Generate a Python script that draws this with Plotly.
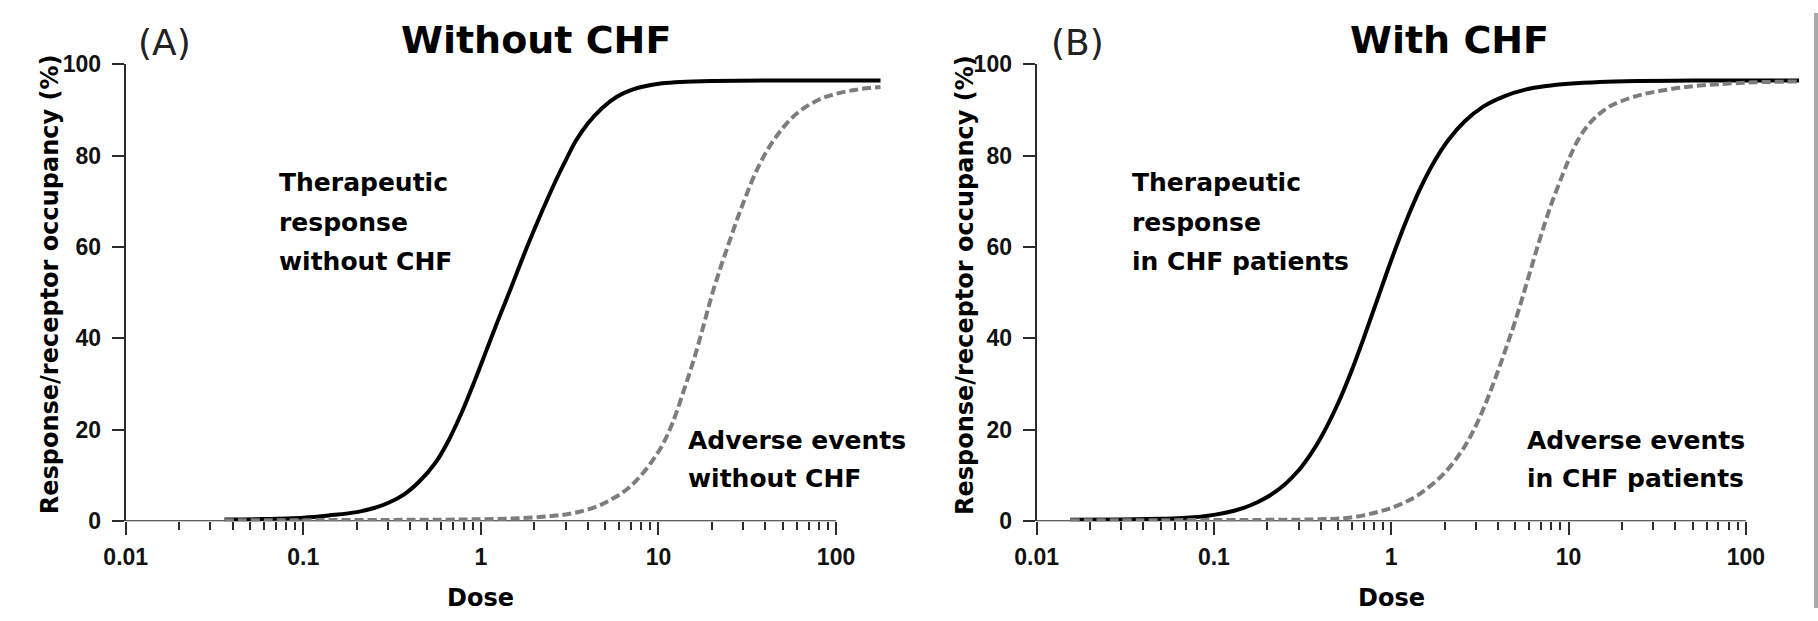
import plotly.graph_objects as go
import math

# ---------------- data ----------------
# Panel A: without CHF
dose_a_ther = [0.036, 0.06, 0.1, 0.14, 0.2, 0.25, 0.3, 0.37, 0.45, 0.55, 0.65, 0.78, 0.92, 1.08,
               1.25, 1.415, 1.6, 1.85, 2.1, 2.31, 2.7, 3.1, 3.4, 4.0, 4.79, 5.8, 7.0, 8.5, 10.5,
               13.3, 20, 40, 100, 178]
resp_a_ther = [0.4, 0.5, 0.8, 1.3, 2.0, 2.9, 4.0, 5.9, 8.7, 12.6, 17.3, 23.8, 30.6, 37.6,
               44.0, 49.2, 54.5, 60.7, 65.8, 69.5, 75.3, 80.0, 83.0, 87.0, 90.3, 92.8, 94.3, 95.2, 95.8,
               96.1, 96.3, 96.4, 96.4, 96.4]

dose_a_adv = [0.036, 0.1, 0.3, 0.6, 1.0, 1.5, 2.0, 2.5, 3.0, 3.6, 4.4, 5.2, 6.3, 7.5, 9.0, 10.5,
              12, 14, 16, 18, 20, 22.5, 25, 28, 31, 35, 40.5, 47, 55, 65, 80, 98, 130, 178]
resp_a_adv = [0.25, 0.25, 0.3, 0.35, 0.45, 0.6, 0.85, 1.15, 1.5, 2.1, 3.1, 4.4, 6.3, 8.9, 12.6, 16.6,
              21.5, 29.0, 36.0, 43.0, 49.5, 55.8, 61.0, 66.5, 71.0, 76.0, 80.8, 84.6, 87.8, 90.2, 92.2,
              93.4, 94.4, 95.0]

# Panel B: with CHF
dose_b_ther = [0.0155, 0.03, 0.05, 0.07, 0.1, 0.13, 0.16, 0.2, 0.25, 0.3, 0.35, 0.4, 0.5, 0.6, 0.7,
               0.83, 1.0, 1.2, 1.45, 1.75, 2.1, 2.6, 3.3, 4.3, 5.7, 7.5, 10, 15, 25, 50, 100, 200]
resp_b_ther = [0.35, 0.4, 0.55, 0.75, 1.4, 2.3, 3.45, 5.3, 8.0, 11.1, 14.6, 18.2, 25.7, 33.1, 40.1,
               48.2, 57.1, 65.2, 72.6, 78.7, 83.4, 87.5, 90.7, 92.9, 94.4, 95.2, 95.7, 96.1, 96.3,
               96.4, 96.4, 96.4]

dose_b_adv = [0.0155, 0.05, 0.15, 0.3, 0.45, 0.555, 0.7, 0.85, 1.0, 1.2, 1.4, 1.61, 1.85, 2.09, 2.35,
              2.58, 2.8, 3.06, 3.35, 3.64, 3.95, 4.31, 4.6, 4.91, 5.5, 6.2, 7.0, 8.0, 9.3, 10.3, 11.5,
              12.8, 14.2, 17, 21.9, 27, 33.6, 42, 51.5, 70, 110, 200]
resp_b_adv = [0.25, 0.25, 0.3, 0.35, 0.5, 0.7, 1.3, 2.1, 2.9, 4.2, 5.6, 7.3, 9.3, 11.4, 13.9,
              16.2, 18.6, 21.6, 25.1, 28.6, 32.3, 36.4, 39.6, 42.8, 49.0, 55.8, 62.6, 69.4, 76.0, 80.2, 83.9,
              86.5, 88.4, 90.7, 92.5, 93.5, 94.2, 94.8, 95.2, 95.6, 96.0, 96.2]

x_tickvals = [0.01, 0.1, 1, 10, 100]
x_ticktext = ["0.01", "0.1", "1", "10", "100"]
x_minor = [m * d for d in [0.01, 0.1, 1, 10] for m in range(2, 10)]
y_tickvals = [0, 20, 40, 60, 80, 100]
axis_line_x = [0.01, 100]
axis_line_y = [0, 0]

panel_titles = ["Without CHF", "With CHF"]
panel_letters = ["(A)", "(B)"]
ther_labels = [["Therapeutic", "response", "without CHF"],
               ["Therapeutic", "response", "in CHF patients"]]
adv_labels = [["Adverse events", "without CHF"],
              ["Adverse events", "in CHF patients"]]
y_title = "Response/receptor occupancy (%)"
x_title = "Dose"

# ---------------- layout geometry ----------------
W, H = 1818, 621
TXT = "DejaVu Sans"
TICKF = "Liberation Sans"
AX = "#2b2b2b"
GREY = "#7d7d7d"

x_range = [-2, math.log10(200)]
dom_a = [105 / W, (105 + (x_range[1] - x_range[0]) * 179.75) / W]
dom_b = [1027 / W, (1027 + (x_range[1] - x_range[0]) * 179.5) / W]
dom_y = [1 - 530.5 / H, 1 - 53.3 / H]

fig = go.Figure()

def add_panel(xa, ya, dt, rt, da, ra):
    fig.add_trace(go.Scatter(x=axis_line_x, y=axis_line_y, mode="lines",
                             line=dict(color=AX, width=2), xaxis=xa, yaxis=ya,
                             showlegend=False, hoverinfo="skip"))
    fig.add_trace(go.Scatter(x=dt, y=rt, mode="lines",
                             line=dict(color="black", width=4, shape="spline", smoothing=1.0),
                             xaxis=xa, yaxis=ya, showlegend=False))
    fig.add_trace(go.Scatter(x=da, y=ra, mode="lines",
                             line=dict(color=GREY, width=4, dash="9px,4px", shape="spline", smoothing=1.0),
                             xaxis=xa, yaxis=ya, showlegend=False))

add_panel("x", "y", dose_a_ther, resp_a_ther, dose_a_adv, resp_a_adv)
add_panel("x2", "y2", dose_b_ther, resp_b_ther, dose_b_adv, resp_b_adv)

def xaxis_cfg(dom, anchor):
    return dict(type="log", range=x_range, domain=dom, anchor=anchor,
                showline=False, showgrid=False, zeroline=False,
                tickvals=x_tickvals, ticktext=x_ticktext,
                ticks="outside", ticklen=13, tickwidth=2, tickcolor=AX,
                ticklabelstandoff=2,
                tickfont=dict(family=TICKF, size=23, color="#111", weight="bold"),
                minor=dict(tickvals=x_minor, ticks="outside", ticklen=8, tickwidth=2, tickcolor=AX,
                           showgrid=False))

def yaxis_cfg(anchor):
    return dict(range=[0, 100], domain=dom_y, anchor=anchor,
                showline=True, linecolor=AX, linewidth=2,
                showgrid=False, zeroline=False,
                tickvals=y_tickvals, ticks="outside", ticklen=12, tickwidth=2, tickcolor=AX,
                ticklabelstandoff=6,
                tickfont=dict(family=TICKF, size=23, color="#111", weight="bold"))

fig.update_layout(
    width=W, height=H,
    margin=dict(l=0, r=0, t=0, b=0),
    paper_bgcolor="white", plot_bgcolor="white",
    xaxis=xaxis_cfg(dom_a, "y"),
    yaxis=yaxis_cfg("x"),
    xaxis2=xaxis_cfg(dom_b, "y2"),
    yaxis2=yaxis_cfg("x2"),
)

ann = []
# panel-level texts (paper coordinates)
title_cx = [520, 1445]
letter_cx = [144, 1068]
ytitle_cx = [28, 954]
xtitle_cx = [464.5, 1386]
for i in range(2):
    ann.append(dict(text=panel_titles[i], x=title_cx[i] / W, y=1 - 28 / H, xref="paper", yref="paper",
                    xanchor="center", yanchor="middle", showarrow=False,
                    font=dict(family=TXT, size=38, color="black", weight="bold")))
    ann.append(dict(text=panel_letters[i], x=letter_cx[i] / W, y=1 - 31 / H, xref="paper", yref="paper",
                    xanchor="center", yanchor="middle", showarrow=False,
                    font=dict(family=TXT, size=36, color="#222")))
    ann.append(dict(text=y_title, x=ytitle_cx[i] / W, y=1 - 283.5 / H, xref="paper", yref="paper",
                    xanchor="center", yanchor="middle", textangle=-90, showarrow=False,
                    font=dict(family=TXT, size=24, color="black", weight="bold")))
    ann.append(dict(text=x_title, x=xtitle_cx[i] / W, y=1 - 611 / H, xref="paper", yref="paper",
                    xanchor="center", yanchor="middle", showarrow=False,
                    font=dict(family=TXT, size=24, color="black", weight="bold")))

# in-plot labels (data coordinates: log10 of dose, percent)
ther_x = [-1.149, -1.471]
adv_x = [1.154, 0.752]
ther_y = [74.1, 65.4, 56.9]
adv_y = [17.7, 9.3]
refs = [("x", "y"), ("x2", "y2")]
for i in range(2):
    xr, yr = refs[i]
    for line, yy in zip(ther_labels[i], ther_y):
        ann.append(dict(text=line, x=ther_x[i], y=yy, xref=xr, yref=yr, xanchor="left", yanchor="middle",
                        showarrow=False, font=dict(family=TXT, size=25, color="black", weight="bold")))
    for line, yy in zip(adv_labels[i], adv_y):
        ann.append(dict(text=line, x=adv_x[i], y=yy, xref=xr, yref=yr, xanchor="left", yanchor="middle",
                        showarrow=False, font=dict(family=TXT, size=25, color="black", weight="bold")))

fig.update_layout(annotations=ann)

# grey border strip at the right edge of the original image
fig.add_shape(type="rect", xref="paper", yref="paper", x0=1814 / W, x1=1, y0=0, y1=1,
              fillcolor="#a8a8a8", line=dict(width=0), layer="above")

fig.write_html("out.html")
